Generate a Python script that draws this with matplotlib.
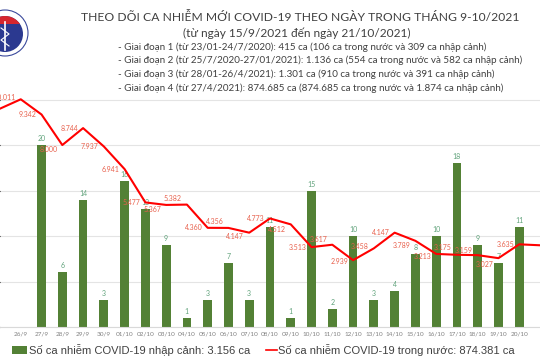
import numpy as np
import matplotlib
matplotlib.use("Agg")
import matplotlib.pyplot as plt
from matplotlib.patches import Circle, Rectangle

# data (25/9 and 21/10 lie mostly outside the crop)
days = ["25/9", "26/9", "27/9", "28/9", "29/9", "30/9", "01/10", "02/10", "03/10",
        "04/10", "05/10", "06/10", "07/10", "08/10", "09/10", "10/10", "11/10",
        "12/10", "13/10", "14/10", "15/10", "16/10", "17/10", "18/10", "19/10",
        "20/10", "21/10"]
imported = [0, 0, 20, 6, 14, 3, 16, 13, 9, 1, 3, 7, 3, 11, 1, 15, 2, 10, 3, 4,
            8, 10, 18, 9, 7, 11, 0]
domestic = [9600, 10011, 9342, 8000, 8744, 7937, 6941, 5477, 5367, 5382, 4360,
            4356, 4147, 4773, 4512, 3513, 3617, 2939, 3458, 4147, 3789, 3213,
            3175, 3159, 3027, 3635, 3593]

title = "THEO DÕI CA NHIỄM MỚI COVID-19 THEO NGÀY TRONG THÁNG 9-10/2021"
subtitle = "(từ ngày 15/9/2021 đến ngày 21/10/2021)"
notes = [
    "- Giai đoạn 1 (từ 23/01-24/7/2020): 415 ca (106 ca trong nước và 309 ca nhập cảnh)",
    "- Giai đoạn 2 (từ 25/7/2020-27/01/2021): 1.136 ca (554 ca trong nước và 582 ca nhập cảnh)",
    "- Giai đoạn 3 (từ 28/01-26/4/2021): 1.301 ca (910 ca trong nước và 391 ca nhập cảnh)",
    "- Giai đoạn 4 (từ 27/4/2021): 874.685 ca (874.685 ca trong nước và 1.874 ca nhập cảnh)",
]
legend_bar = "Số ca nhiễm COVID-19 nhập cảnh: 3.156 ca"
legend_line = "Số ca nhiễm COVID-19 trong nước: 874.381 ca"

# vertical nudges (pixels) of the red value labels, as placed in the original
label_dy = [0, 2, 0, -4, 0, 0, 0, 0, -5, 6, 0, 6, -4, 0, -5, 0, 5, -1, 2, 0,
            -5, -3, 7, 5, -6, 0, -5]

GREEN = "#538135"
RED = "#FF0000"
TXT = "#404040"

fig = plt.figure(figsize=(5.4, 3.6), dpi=100)
fig.patch.set_facecolor("white")

x = np.arange(len(days))
# only 26/9 .. 20/10 are inside the crop
shown = [0 < i < len(days) - 1 for i in x]

ax = fig.add_axes([0, 33 / 360, 1, 232 / 360])
ax.bar(x, imported, width=0.42, color=GREEN, zorder=2)
for xi, v in zip(x, imported):
    if v > 0:
        ax.annotate(str(v), (xi, v), xytext=(0, 3), textcoords="offset pixels",
                    ha="center", va="bottom", fontsize=5, color="#5FA27A",
                    family="Lato")
ax.set_xlim(0.306, 25.31)
ax.set_ylim(0, 25.5)
ax.set_yticks(np.arange(0, 26, 5))
ax.yaxis.grid(True, color="#E4E4E4", lw=0.8, zorder=0)
ax.set_axisbelow(True)
ax.tick_params(axis="y", left=False, labelleft=False)
ax.set_xticks(x)
ax.set_xticklabels([d if s else "" for d, s in zip(days, shown)],
                   fontsize=4.6, color="#808080", family="Lato")
ax.tick_params(axis="x", length=0, pad=3.5)
for s in ["top", "left", "right"]:
    ax.spines[s].set_visible(False)
ax.spines["bottom"].set_color("#D9D9D9")

ax2 = ax.twinx()
ax2.plot(x, domestic, color=RED, lw=1.5, zorder=3, clip_on=False)
for xi, v, dy, s in zip(x, domestic, label_dy, shown):
    if not s:
        continue
    ax2.annotate(f"{v/1000:.3f}", (xi, v), xytext=(-5, dy), textcoords="offset pixels",
                 ha="right", va="center", fontsize=5, color="#E8604C", family="Lato")
ax2.set_ylim(0, 10200)
ax2.axis("off")
ax2.set_xlim(ax.get_xlim())

# overlay in pixel coordinates for heading, logo and legend
ov = fig.add_axes([0, 0, 1, 1], zorder=5)
ov.set_xlim(0, 540)
ov.set_ylim(360, 0)
ov.axis("off")
ov.patch.set_alpha(0)

ov.text(300, 17, title, ha="center", va="center", fontsize=8.7, color=TXT, family="Lato")
ov.text(297, 33, subtitle, ha="center", va="center", fontsize=8.6, color=TXT, family="Lato")
for i, line in enumerate(notes):
    ov.text(118, 47 + 13.7 * i, line, ha="left", va="center", fontsize=7.1,
            color=TXT, family="Lato")

# simplified ministry logo at the top left corner
ov.add_patch(Circle((5, 33), 23, facecolor="white", edgecolor="#3B4A9C", lw=0.8))
inner = Circle((5, 34), 18, facecolor="#2B3990", edgecolor="none")
ov.add_patch(inner)
band = Rectangle((-15, 14), 40, 10, facecolor="#D6262E", edgecolor="none")
ov.add_patch(band)
band.set_clip_path(inner)
ov.plot([5, 5], [22, 50], color="white", lw=1.2)
ov.plot([1, 9, 1, 9], [28, 34, 40, 46], color="white", lw=0.8)

# legend drawn by hand under the axis
ov.add_patch(Rectangle((12, 346), 15, 8, facecolor=GREEN, edgecolor="none"))
ov.text(29, 350, legend_bar, ha="left", va="center", fontsize=8, color=TXT,
        family="Liberation Sans")
ov.plot([266, 277], [350, 350], color=RED, lw=1.2)
ov.text(278, 350, legend_line, ha="left", va="center", fontsize=8, color=TXT,
        family="Liberation Sans")

fig.savefig("out.png", dpi=100)
